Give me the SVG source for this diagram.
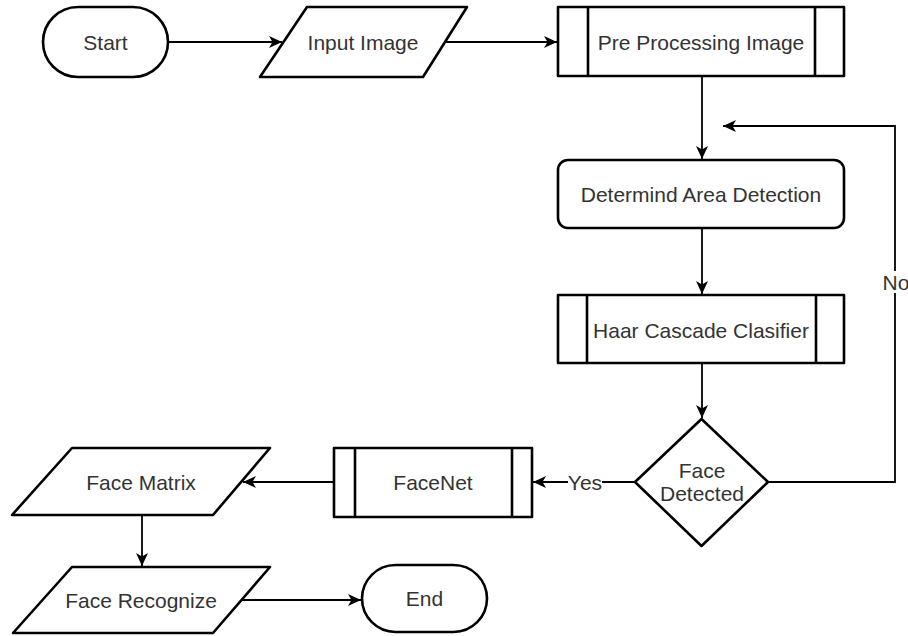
<svg xmlns="http://www.w3.org/2000/svg" width="908" height="636" viewBox="0 0 908 636">
<style>
.s{fill:#fff;stroke:#000;stroke-width:2.6;stroke-linejoin:round}
.c{fill:none;stroke:#000;stroke-width:1.8}
.t{font-family:"Liberation Sans",Arial,sans-serif;font-size:21px;fill:#333;text-anchor:middle}
.lb{fill:#fff;stroke:none}
</style>
<defs>
<marker id="a" markerUnits="userSpaceOnUse" markerWidth="13" markerHeight="12" viewBox="0 0 13 12" refX="13" refY="6" orient="auto">
<path d="M0,0 L13,6 L0,12 L3.5,6 Z" fill="#000"/>
</marker>
</defs>
<rect width="908" height="636" fill="#fff"/>
<g id="connectors">
<path class="c" d="M168,42 L282,42" marker-end="url(#a)"/>
<path class="c" d="M445,42 L557,42" marker-end="url(#a)"/>
<path class="c" d="M702,76 L702,159" marker-end="url(#a)"/>
<path class="c" d="M702,228 L702,294" marker-end="url(#a)"/>
<path class="c" d="M702,363 L702,418" marker-end="url(#a)"/>
<path class="c" d="M635,482 L533,482" marker-end="url(#a)"/>
<path class="c" d="M768,482 L895,482 L895,126 L723,126" marker-end="url(#a)"/>
<path class="c" d="M334,482 L243,482" marker-end="url(#a)"/>
<path class="c" d="M142,515 L142,566" marker-end="url(#a)"/>
<path class="c" d="M242,600 L361,600" marker-end="url(#a)"/>
<rect class="lb" x="568" y="472" width="34" height="20"/>
<text class="t" x="585" y="489.5">Yes</text>
<rect class="lb" x="882" y="271" width="26" height="22"/>
<text class="t" x="896" y="289.5">No</text>
</g>
<g id="start">
<rect class="s" x="43" y="7" width="125" height="70" rx="35" ry="35"/>
<text class="t" x="105.5" y="49.5">Start</text>
</g>
<g id="input-image">
<path class="s" d="M307,7 L467,7 L423,77 L260,77 Z"/>
<text class="t" x="363" y="49.5">Input Image</text>
</g>
<g id="pre-processing">
<rect class="s" x="558" y="7" width="286" height="69"/>
<line class="s" x1="588" y1="7" x2="588" y2="76"/>
<line class="s" x1="815" y1="7" x2="815" y2="76"/>
<text class="t" x="701" y="49.5">Pre Processing Image</text>
</g>
<g id="determind-area">
<rect class="s" x="558" y="160" width="286" height="68" rx="10" ry="10"/>
<text class="t" x="701" y="201.5">Determind Area Detection</text>
</g>
<g id="haar-cascade">
<rect class="s" x="558" y="295" width="286" height="68"/>
<line class="s" x1="587" y1="295" x2="587" y2="363"/>
<line class="s" x1="816" y1="295" x2="816" y2="363"/>
<text class="t" x="701" y="337.5">Haar Cascade Clasifier</text>
</g>
<g id="face-detected">
<path class="s" d="M701.5,419 L768,482 L701.5,546 L635,482 Z"/>
<text class="t" x="702" y="478">Face</text>
<text class="t" x="702" y="501">Detected</text>
</g>
<g id="facenet">
<rect class="s" x="334" y="448" width="198" height="69"/>
<line class="s" x1="355" y1="448" x2="355" y2="517"/>
<line class="s" x1="512" y1="448" x2="512" y2="517"/>
<text class="t" x="433" y="489.5">FaceNet</text>
</g>
<g id="face-matrix">
<path class="s" d="M72,448 L270,448 L213,515 L12,515 Z"/>
<text class="t" x="141" y="489.5">Face Matrix</text>
</g>
<g id="face-recognize">
<path class="s" d="M72,567 L270,567 L213,633 L13,633 Z"/>
<text class="t" x="141" y="608">Face Recognize</text>
</g>
<g id="end">
<rect class="s" x="362" y="565" width="125" height="67" rx="33.5" ry="33.5"/>
<text class="t" x="424.5" y="606">End</text>
</g>
</svg>
